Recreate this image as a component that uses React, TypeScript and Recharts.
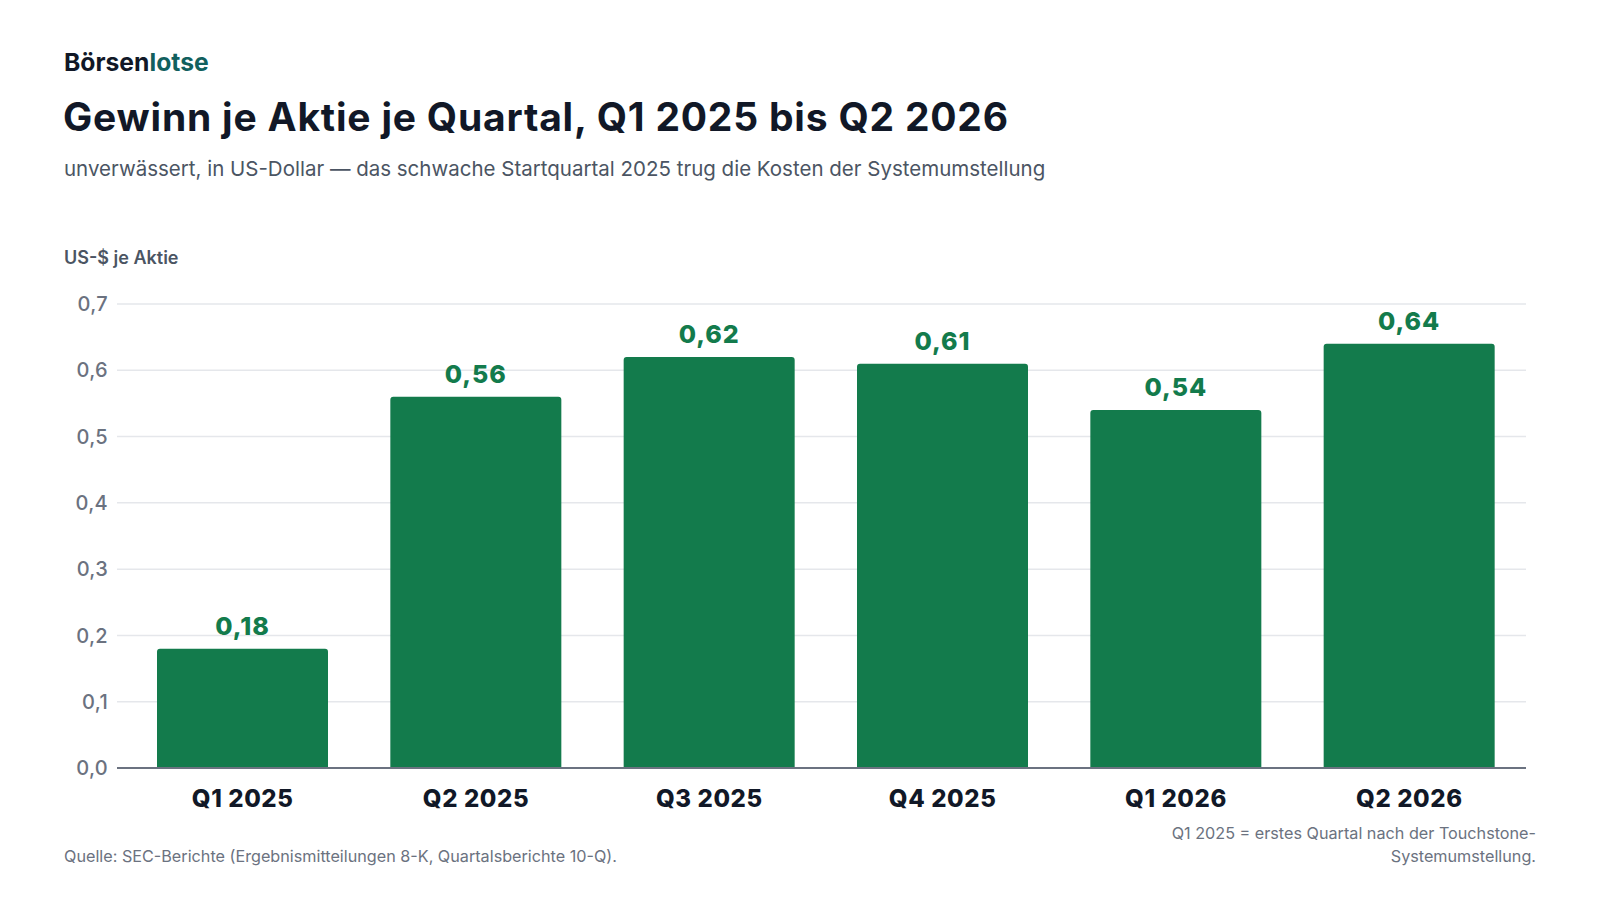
import { BarChart, Bar, XAxis, YAxis, CartesianGrid, LabelList } from 'recharts';

// Quartale und unverwässerter Gewinn je Aktie (US-$)
const quarters = ['Q1 2025', 'Q2 2025', 'Q3 2025', 'Q4 2025', 'Q1 2026', 'Q2 2026'];
const eps = [0.18, 0.56, 0.62, 0.61, 0.54, 0.64];
const yTicks = [0, 0.1, 0.2, 0.3, 0.4, 0.5, 0.6, 0.7];

const GREEN = '#137b4c';
const FONT = 'Inter, "Noto Sans", sans-serif';

const chartData = quarters.map((q, i) => ({ name: q, value: eps[i] }));

const fmt = (v: number, digits: number) => v.toFixed(digits).replace('.', ',');

export default function App() {
  return (
    <div style={{ position: 'absolute', left: 0, top: 0, width: 1600, height: 900, background: '#fff', fontFamily: FONT }}>
      <div style={{ position: 'absolute', left: 0, top: 0 }}>
        <BarChart
          width={1600}
          height={900}
          data={chartData}
          margin={{ top: 304, right: 74, left: 0, bottom: 72 }}
        >
          <CartesianGrid vertical={false} stroke="#e5e7eb" strokeWidth={1.5} />
          <XAxis
            dataKey="name"
            height={60}
            padding={{ left: 9, right: 0 }}
            axisLine={{ stroke: '#6b7280', strokeWidth: 2 }}
            tickLine={false}
            tickSize={0}
            tickMargin={22}
            tick={{ fill: '#111827', fontSize: 24, fontWeight: 800, fontFamily: FONT, letterSpacing: 0.6 }}
          />
          <YAxis
            width={117}
            domain={[0, 0.7]}
            ticks={yTicks}
            axisLine={false}
            tickLine={false}
            tickSize={0}
            tickMargin={9}
            tickFormatter={(v: number) => fmt(v, 1)}
            tick={{ fill: '#6b7280', fontSize: 20, fontWeight: 500, fontFamily: FONT, letterSpacing: 0.3 }}
          />
          <Bar dataKey="value" fill={GREEN} barSize={171} radius={[3, 3, 0, 0]} isAnimationActive={false}>
            <LabelList
              dataKey="value"
              position="top"
              offset={14}
              formatter={(v: any) => fmt(Number(v), 2)}
              style={{ fill: GREEN, fontSize: 25, fontWeight: 800, fontFamily: FONT, letterSpacing: 1 }}
            />
          </Bar>
        </BarChart>
      </div>
      <svg width={1600} height={900} style={{ position: 'absolute', left: 0, top: 0, pointerEvents: 'none' }}>
        <text x={64} y={70.5} fontSize={24.7} fontWeight={700} fontFamily={FONT}>
          <tspan fill="#111827">Börsen</tspan>
          <tspan fill="#11605e">lotse</tspan>
        </text>
        <text x={63} y={130.5} fontSize={39} fontWeight={700} fontFamily={FONT} fill="#111827" letterSpacing={0.8}>
          Gewinn je Aktie je Quartal, Q1 2025 bis Q2 2026
        </text>
        <text x={64} y={176} fontSize={20.5} fontWeight={400} fontFamily={FONT} fill="#4b5563">
          unverwässert, in US-Dollar — das schwache Startquartal 2025 trug die Kosten der Systemumstellung
        </text>
        <text x={64} y={264} fontSize={18} fontWeight={600} fontFamily={FONT} fill="#4b5563">
          US-$ je Aktie
        </text>
        <text x={64} y={862} fontSize={16.2} fontFamily={FONT} fill="#6b7280">
          Quelle: SEC-Berichte (Ergebnismitteilungen 8-K, Quartalsberichte 10-Q).
        </text>
        <text x={1536} y={839} fontSize={16.2} fontFamily={FONT} fill="#6b7280" textAnchor="end">
          Q1 2025 = erstes Quartal nach der Touchstone-
        </text>
        <text x={1536} y={862} fontSize={16.2} fontFamily={FONT} fill="#6b7280" textAnchor="end">
          Systemumstellung.
        </text>
      </svg>
    </div>
  );
}
